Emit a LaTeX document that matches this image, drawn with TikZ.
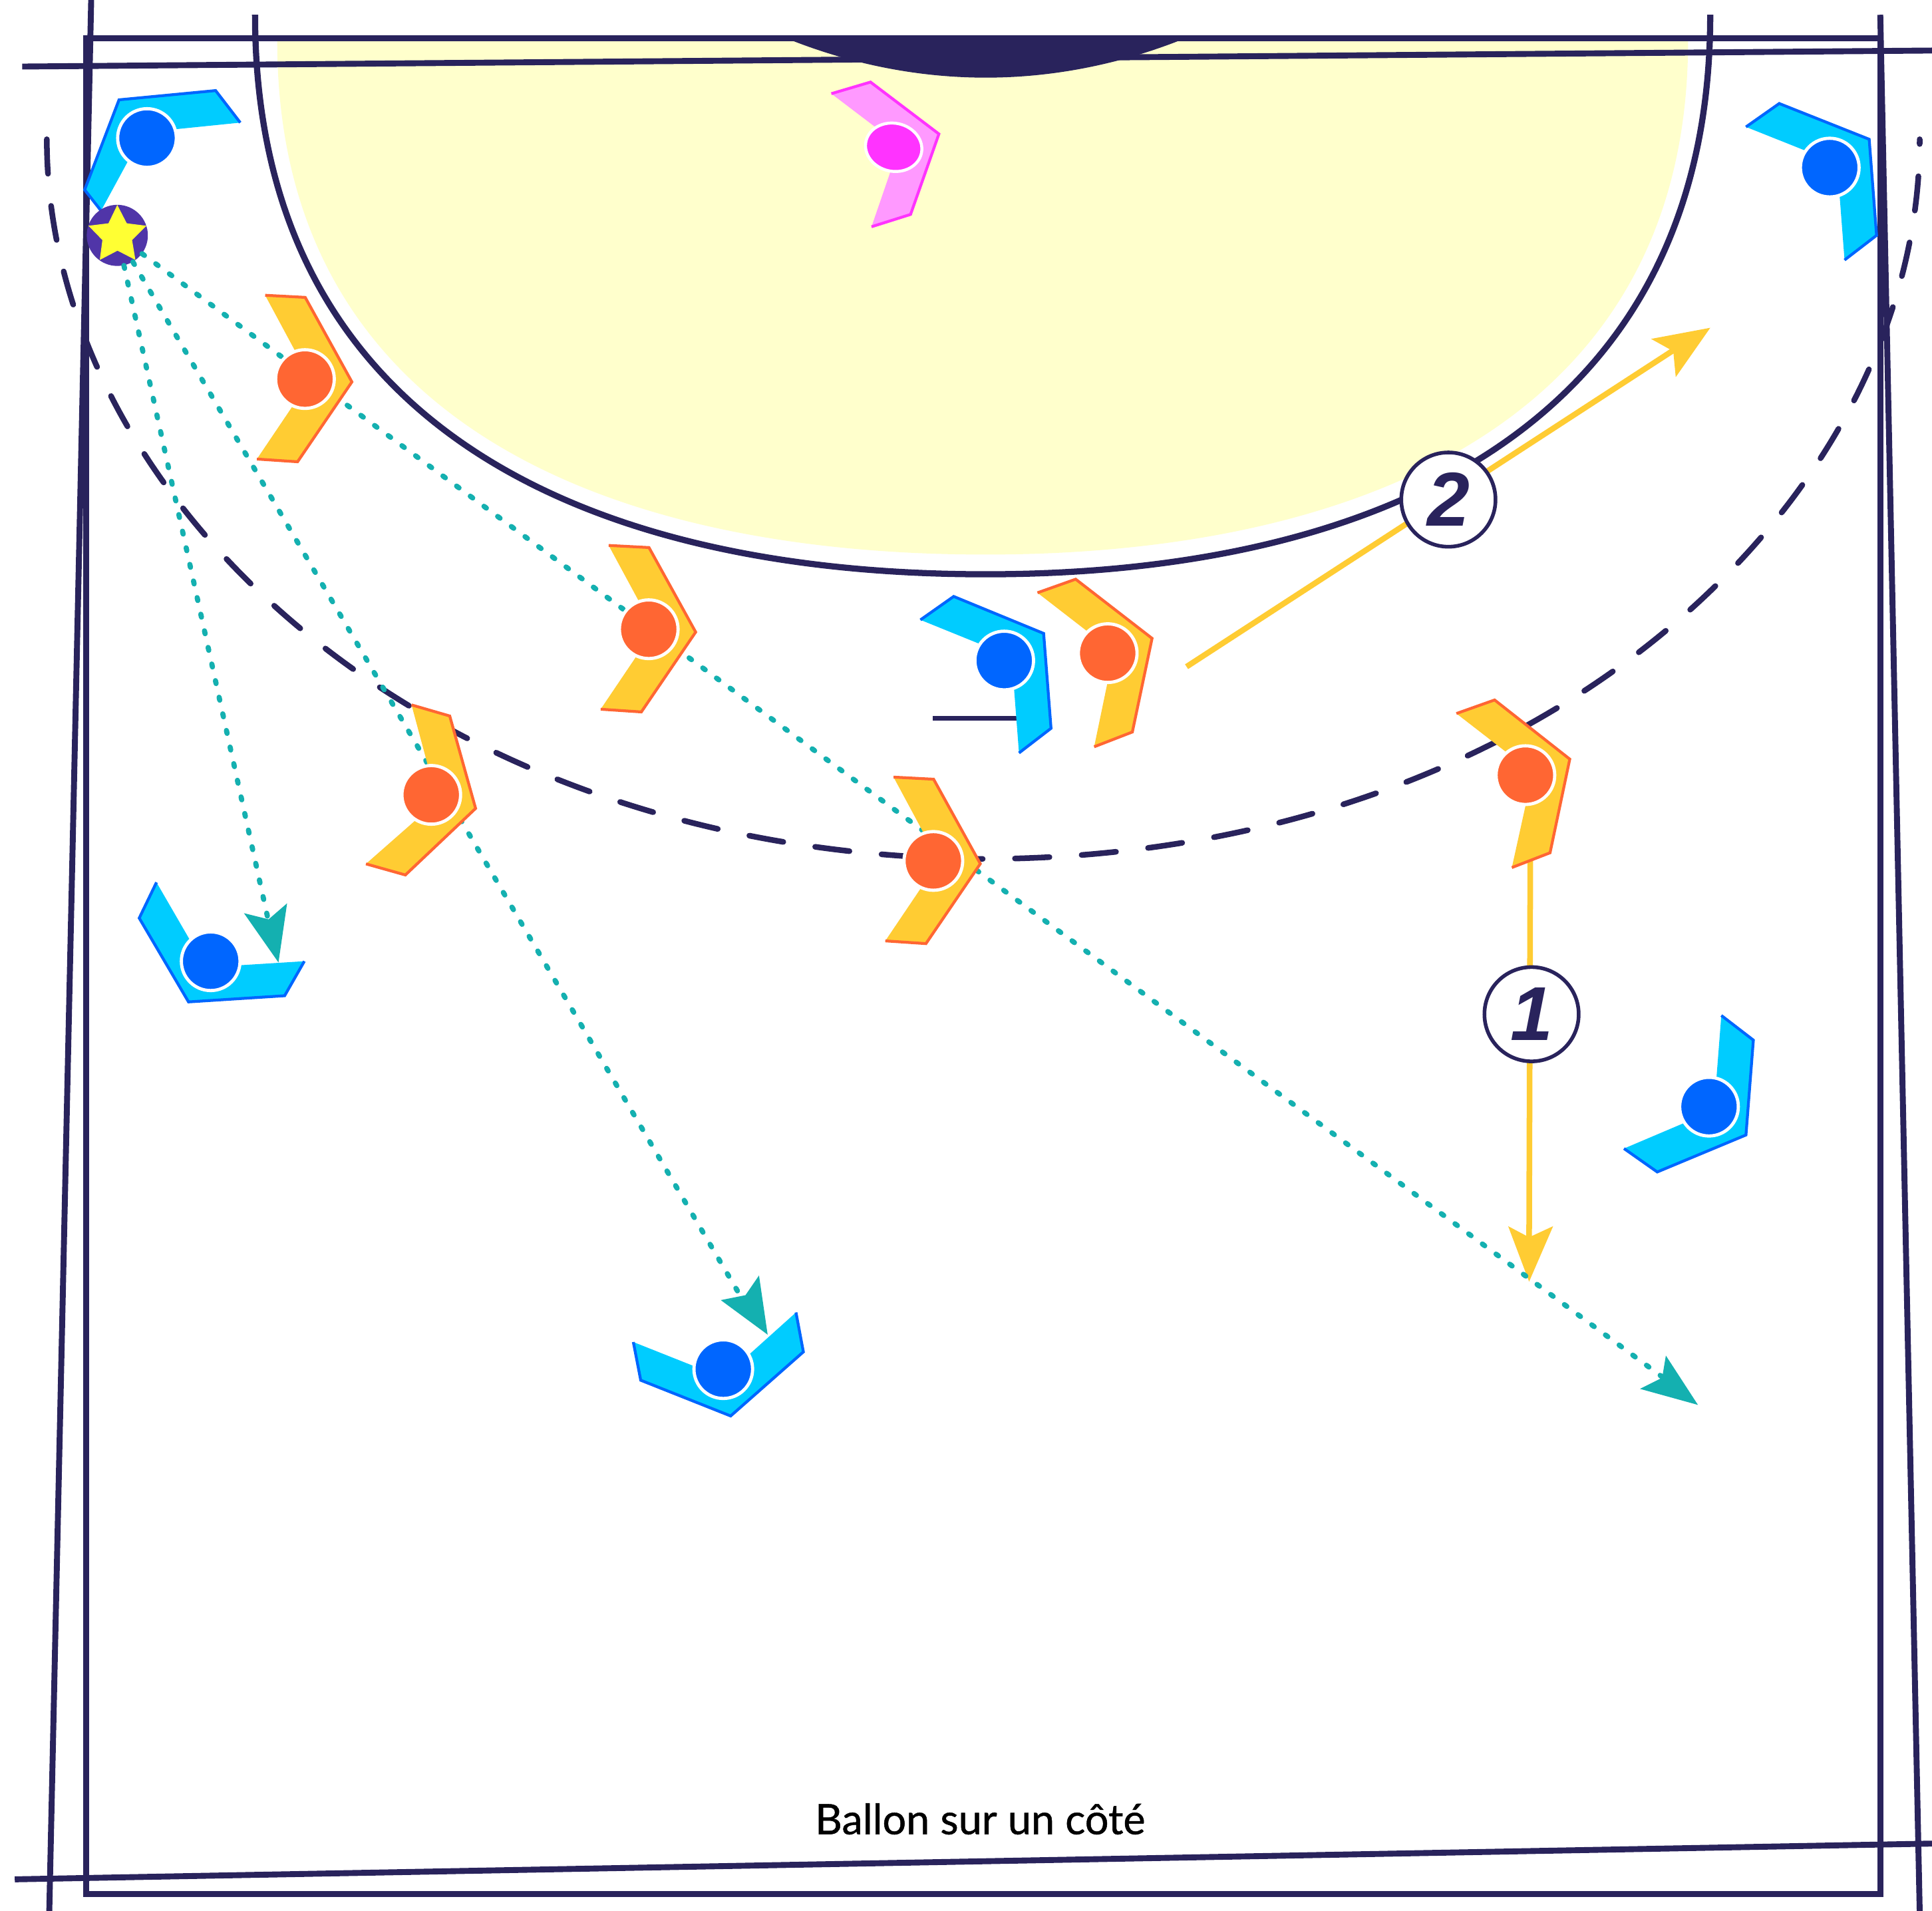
\documentclass[tikz,border=0pt]{standalone}
\usepackage{fontspec}
\usetikzlibrary{shapes.geometric}
\setmainfont{Lato}[FakeBold=0.8]
\newfontfamily\numfont{Liberation Sans}
\definecolor{ink}{HTML}{29235C}
\definecolor{paleyellow}{HTML}{FFFFCC}
\definecolor{teal}{HTML}{14B0B0}
\definecolor{gold}{HTML}{FFCC33}
\definecolor{coral}{HTML}{FF6633}
\definecolor{sky}{HTML}{00CCFF}
\definecolor{azure}{HTML}{0066FF}
\definecolor{pinkpale}{HTML}{FF99FF}
\definecolor{magentab}{HTML}{FF33FF}
\definecolor{ballviolet}{HTML}{5035A8}
\definecolor{staryellow}{HTML}{FFFF33}
\tikzset{
  frameline/.style={draw=ink,line width=4.8pt},
  arcline/.style={draw=ink,line width=5pt},
  dashline/.style={draw=ink,line width=4.6pt,line cap=round,dash pattern=on 28pt off 26.2pt},
  passline/.style={draw=teal,line width=4.2pt,line cap=round,dash pattern=on 2.4pt off 11.4pt},
  passhead/.style={fill=teal},
  runline/.style={draw=gold,line width=4.6pt},
  runhead/.style={fill=gold},
  disc/.style={circle,minimum size=47.6pt,inner sep=0pt,draw=white,line width=2.6pt},
  bluefill/.style={fill=sky},blueedge/.style={draw=azure,line width=2.3pt,line join=miter},bluedisc/.style={disc,fill=azure},
  orangefill/.style={fill=gold},orangeedge/.style={draw=coral,line width=2.3pt,line join=miter},orangedisc/.style={disc,fill=coral},
  pinkfill/.style={fill=pinkpale},pinkedge/.style={draw=magentab,line width=2.3pt,line join=miter},
  numdisc/.style={circle,minimum size=76.5pt,inner sep=0pt,draw=ink,line width=3pt,fill=white,font=\numfont\fontsize{62}{62}\selectfont\bfseries\itshape,text=ink},
}
\newcommand{\plyr}[9]{%
  \fill[#2fill] #3 -- #4 -- #5 -- #6 -- #7 -- #8 -- cycle;
  \draw[#2edge] #3 -- #4 -- #5 -- #6 -- #7;
  \node[#2disc] (#1) at #9 {};
}
\begin{document}
\begin{tikzpicture}[x=1pt,y=-1pt]
\useasboundingbox (0,0) rectangle (1568,1550.7);
\fill[white] (0,0) rectangle (1568,1550.7);
% goal area
\fill[paleyellow] (225,33) .. controls (225,340) and (490,450) .. (800,450)
   .. controls (1105,450) and (1370,340) .. (1370,33) -- cycle;
% frame
\coordinate (ra) at (70,31); \coordinate (rb) at (1526,1537);
\draw[frameline] (ra) rectangle (rb);
\coordinate (tl) at (18,54); \coordinate (tr) at (1568,41);
\coordinate (ll) at (74,0);  \coordinate (lb) at (40,1551);
\coordinate (rl) at (1526,12); \coordinate (rr) at (1558,1551);
\coordinate (bl) at (12,1525); \coordinate (br) at (1568,1496);
\draw[frameline] (tl) -- (tr);
\draw[frameline] (ll) -- (lb);
\draw[frameline] (rl) -- (rr);
\draw[frameline] (bl) -- (br);
% goal
\fill[ink] (638,31) .. controls (690,52) and (745,63) .. (800,63)
   .. controls (855,63) and (910,52) .. (962,31) -- cycle;
% runs
\coordinate (a1s) at (1242,690); \coordinate (a1e) at (1241,1010);
\coordinate (a2s) at (963,541); \coordinate (a2e) at (1360,283);
\draw[runline] (a2s) -- (a2e);
\fill[runhead] (1388,266) -- (1340,275) -- (1358,285) -- (1360,306) -- cycle;
\draw[runline] (a1s) -- (a1e);
\fill[runhead] (1241,1040) -- (1224,995) -- (1241,1004) -- (1260.5,995) -- cycle;
% 6 m line
\draw[arcline] (207,12) .. controls (207,345) and (475,466) .. (800,466)
   .. controls (1120,466) and (1388,345) .. (1388,12);
% 9 m line
\coordinate (dl) at (38,113); \coordinate (dr) at (1558,113);
\draw[dashline] (dl) .. controls (38,405) and (345,695) .. (800,697)
   .. controls (1255,695) and (1558,405) .. (dr);
% block line
\coordinate (bs) at (757,583); \coordinate (be) at (826,583);
\draw[draw=ink,line width=4pt] (bs) -- (be);
% corner player and ball
\plyr{pa}{blue}{(195,99.5)}{(175,73.5)}{(96.6,81)}{(68.7,154)}{(82,171)}{(116.5,107.5)}{(119.3,112)}
\node[circle,minimum size=49.6pt,inner sep=0pt,fill=ballviolet] (ball) at (95.2,191) {};
\fill[staryellow] (95.2,166.3) -- (102.9,181.2) -- (118.8,183.2) -- (107.2,194.8) -- (109.9,210.9)
   -- (95.4,203.4) -- (81,210.9) -- (83.1,194.8) -- (71.8,183.2) -- (88,181.2) -- cycle;
% passes
\coordinate (p1e) at (1350,1118); \coordinate (p2e) at (607,1062); \coordinate (p3e) at (218,748);
\draw[passline] (ball) -- (p1e);
\draw[passline] (ball) -- (p2e);
\draw[passline] (ball) -- (p3e);
\fill[passhead] (1378,1140) -- (1352,1100) -- (1349,1118) -- (1331,1127) -- cycle;
\fill[passhead] (623,1083) -- (616,1035) -- (605,1051) -- (585,1055) -- cycle;
\fill[passhead] (226,781) -- (233,733) -- (218,746) -- (198,741) -- cycle;
% players
\plyr{oa}{orange}{(215.2,239.6)}{(247.7,241.3)}{(285.6,309.9)}{(241.5,374.7)}{(208.5,372.5)}{(252,308)}{(247.5,307.6)}
\plyr{ob}{orange}{(494,442.6)}{(526.7,444.3)}{(564.6,512.9)}{(520.5,577.7)}{(487.5,575.5)}{(531,511)}{(526.5,510.6)}
\plyr{oc}{orange}{(334,572)}{(365,581)}{(386,656)}{(329,710)}{(297,701)}{(355,650)}{(350,645)}
\plyr{od}{orange}{(842,481)}{(873,470)}{(935,518)}{(919,594)}{(888,606)}{(904,529)}{(899,530)}
\plyr{oe}{orange}{(725.2,630.6)}{(757.7,632.3)}{(795.6,700.9)}{(751.5,765.7)}{(718.5,763.5)}{(762,699)}{(757.5,698.6)}
\plyr{of}{orange}{(1182,579)}{(1213,568)}{(1274,616)}{(1258,692)}{(1227,704)}{(1244,627)}{(1238,629)}
\plyr{pb}{blue}{(1417,103)}{(1444,84)}{(1517,113)}{(1523,191)}{(1497,211)}{(1491,132.5)}{(1485,136)}
\plyr{pc}{blue}{(747,503)}{(774,484)}{(847,514)}{(853,591)}{(827,611)}{(821,533)}{(815,536)}
\plyr{pd}{blue}{(1397,824)}{(1423,844)}{(1417,921)}{(1345,951)}{(1318,932)}{(1391,901)}{(1387,898)}
\plyr{pe}{blue}{(127,716)}{(113,745)}{(153,813)}{(231,808)}{(247,780)}{(167,785)}{(171,780)}
\plyr{pf}{blue}{(514,1089)}{(520,1120)}{(593,1149)}{(652,1097)}{(646,1065)}{(587,1118)}{(587,1111)}
% goalkeeper
\fill[pinkfill] (674.7,76) -- (706.5,66.6) -- (762,108.7) -- (739,174) -- (707.3,184) -- (730,118) -- cycle;
\draw[pinkedge] (674.7,76) -- (706.5,66.6) -- (762,108.7) -- (739,174) -- (707.3,184);
\node[ellipse,minimum width=46pt,minimum height=39pt,inner sep=0pt,draw=white,line width=2.4pt,fill=magentab,rotate=-12] (gk) at (725.3,119.5) {};
% numbers
\node[numdisc] (na) at (1243,823) {1};
\node[numdisc] (nb) at (1175.5,405.4) {2};
% title
\node[inner sep=0pt,font=\fontsize{34}{40}\selectfont,text=black] (title) at (795.5,1476) {Ballon sur un côté};
\end{tikzpicture}
\end{document}
